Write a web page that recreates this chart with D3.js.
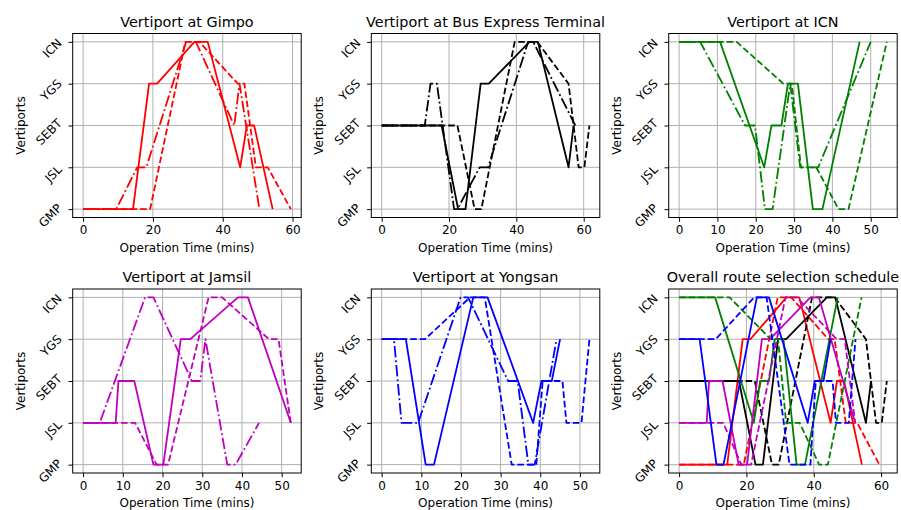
<!DOCTYPE html>
<html>
<head>
<meta charset="utf-8">
<script src="https://cdn.jsdelivr.net/npm/d3@7"></script>
<style>
  html, body { margin: 0; padding: 0; background: #fff; }
  svg { display: block; font-family: "DejaVu Sans", sans-serif; }
</style>
</head>
<body>
<svg id="chart" width="901" height="510"></svg>
<script>
// Vertiports, bottom to top of every y axis
const vertiports = ["GMP", "JSL", "SEBT", "YGS", "ICN"];

const panelTitles = [
  "Vertiport at Gimpo",
  "Vertiport at Bus Express Terminal",
  "Vertiport at ICN",
  "Vertiport at Jamsil",
  "Vertiport at Yongsan",
  "Overall route selection schedule"
];

const stationColors = ["#ff0000", "#000000", "#008000", "#bf00bf", "#0000ff"];

// x tick values per panel (minutes)
const ticks60 = [0, 20, 40, 60];
const ticks50 = [0, 10, 20, 30, 40, 50];

// Route schedules: [operation time (min), vertiport]
const gimpoSolid = [[0,"GMP"],[14.3,"GMP"],[18.9,"YGS"],[21.2,"YGS"],[31.9,"ICN"],[35.7,"ICN"],[45,"JSL"],[46.9,"SEBT"],[49,"SEBT"],[54.3,"GMP"]];
const gimpoDashed = [[0,"GMP"],[19.2,"GMP"],[29.3,"ICN"],[33.3,"ICN"],[44.3,"YGS"],[46.2,"YGS"],[49.5,"JSL"],[52.9,"JSL"],[59.5,"GMP"]];
const gimpoDashDot = [[0,"GMP"],[9.5,"GMP"],[15.5,"JSL"],[18.1,"JSL"],[29.5,"ICN"],[32.3,"ICN"],[43.3,"SEBT"],[44.8,"YGS"],[50.5,"GMP"]];

const busSolid = [[0,"SEBT"],[17.8,"SEBT"],[22.7,"GMP"],[24.9,"GMP"],[29.4,"YGS"],[31.8,"YGS"],[43.9,"ICN"],[46.4,"ICN"],[55.5,"JSL"],[57,"SEBT"]];
const busDashed = [[0,"SEBT"],[22.5,"SEBT"],[27.6,"GMP"],[29.6,"GMP"],[39.5,"ICN"],[46.2,"ICN"],[55.5,"YGS"],[58.5,"JSL"],[60.2,"JSL"],[61.7,"SEBT"]];
const busDashDot = [[0,"SEBT"],[12.8,"SEBT"],[14.5,"YGS"],[16.4,"YGS"],[21.5,"GMP"],[22.5,"GMP"],[29.1,"JSL"],[31.6,"JSL"],[43.5,"ICN"],[45,"ICN"],[57.5,"SEBT"]];

const icnSolid = [[0,"ICN"],[10.7,"ICN"],[22.2,"JSL"],[24.1,"SEBT"],[26.7,"SEBT"],[28.4,"YGS"],[31,"YGS"],[34.9,"GMP"],[37.4,"GMP"],[47.1,"ICN"]];
const icnDashed = [[0,"ICN"],[15,"ICN"],[27.2,"YGS"],[29.4,"YGS"],[31.8,"JSL"],[35.8,"JSL"],[41.6,"GMP"],[44.2,"GMP"],[54.2,"ICN"]];
const icnDashDot = [[0,"ICN"],[5.5,"ICN"],[17.2,"SEBT"],[19.8,"SEBT"],[22.4,"GMP"],[24.4,"GMP"],[29,"YGS"],[31.6,"JSL"],[36.3,"JSL"],[50,"ICN"]];

const jamsilSolid = [[0,"JSL"],[8.2,"JSL"],[8.9,"SEBT"],[12.9,"SEBT"],[17.7,"GMP"],[20.2,"GMP"],[24.6,"YGS"],[27,"YGS"],[39,"ICN"],[41.5,"ICN"],[52.3,"JSL"]];
const jamsilDashed = [[0,"JSL"],[13.1,"JSL"],[18.5,"GMP"],[21.4,"GMP"],[31.6,"ICN"],[35,"ICN"],[46.8,"YGS"],[49.2,"YGS"],[52.3,"JSL"]];
const jamsilDashDot = [[0,"JSL"],[4.2,"JSL"],[15.6,"ICN"],[17.7,"ICN"],[27.4,"SEBT"],[29.5,"SEBT"],[30.8,"YGS"],[36.3,"GMP"],[38.4,"GMP"],[44.3,"JSL"]];

const yongsanSolid = [[0,"YGS"],[6.1,"YGS"],[11.1,"GMP"],[13.2,"GMP"],[23.1,"ICN"],[26.7,"ICN"],[38.2,"JSL"],[40.3,"SEBT"],[42.9,"SEBT"],[45,"YGS"]];
const yongsanDashed = [[0,"YGS"],[10.9,"YGS"],[22.3,"ICN"],[26,"ICN"],[32.8,"GMP"],[39,"GMP"],[40.6,"SEBT"],[45.6,"SEBT"],[46.6,"JSL"],[50.4,"JSL"],[52.4,"YGS"]];
const yongsanDashDot = [[0,"YGS"],[3.1,"YGS"],[5,"JSL"],[9.2,"JSL"],[19.9,"ICN"],[21.8,"ICN"],[31.9,"SEBT"],[34.3,"SEBT"],[37,"GMP"],[38.6,"GMP"],[44.1,"YGS"]];

// Line styles (matplotlib-like dash patterns scaled to the stroke width)
const styleSolid = null;
const styleDashed = "6.6,2.9";
const styleDashDot = "11.5,2.9,1.8,2.9";

const panels = [
  { title: panelTitles[0], ticks: ticks60, series: [
    { pts: gimpoSolid, color: stationColors[0], dash: styleSolid },
    { pts: gimpoDashed, color: stationColors[0], dash: styleDashed },
    { pts: gimpoDashDot, color: stationColors[0], dash: styleDashDot }] },
  { title: panelTitles[1], ticks: ticks60, series: [
    { pts: busSolid, color: stationColors[1], dash: styleSolid },
    { pts: busDashed, color: stationColors[1], dash: styleDashed },
    { pts: busDashDot, color: stationColors[1], dash: styleDashDot }] },
  { title: panelTitles[2], ticks: ticks50, series: [
    { pts: icnSolid, color: stationColors[2], dash: styleSolid },
    { pts: icnDashed, color: stationColors[2], dash: styleDashed },
    { pts: icnDashDot, color: stationColors[2], dash: styleDashDot }] },
  { title: panelTitles[3], ticks: ticks50, series: [
    { pts: jamsilSolid, color: stationColors[3], dash: styleSolid },
    { pts: jamsilDashed, color: stationColors[3], dash: styleDashed },
    { pts: jamsilDashDot, color: stationColors[3], dash: styleDashDot }] },
  { title: panelTitles[4], ticks: ticks50, series: [
    { pts: yongsanSolid, color: stationColors[4], dash: styleSolid },
    { pts: yongsanDashed, color: stationColors[4], dash: styleDashed },
    { pts: yongsanDashDot, color: stationColors[4], dash: styleDashDot }] },
  { title: panelTitles[5], ticks: ticks60, series: [
    { pts: gimpoSolid, color: stationColors[0], dash: styleSolid },
    { pts: gimpoDashed, color: stationColors[0], dash: styleDashed },
    { pts: busSolid, color: stationColors[1], dash: styleSolid },
    { pts: busDashed, color: stationColors[1], dash: styleDashed },
    { pts: icnSolid, color: stationColors[2], dash: styleSolid },
    { pts: icnDashed, color: stationColors[2], dash: styleDashed },
    { pts: jamsilSolid, color: stationColors[3], dash: styleSolid },
    { pts: jamsilDashed, color: stationColors[3], dash: styleDashed },
    { pts: yongsanSolid, color: stationColors[4], dash: styleSolid },
    { pts: yongsanDashed, color: stationColors[4], dash: styleDashed }] }
];

// Grid of axes
const colLeft = [72.7, 371.3, 668.7];
const rowTop = [33.5, 289];
const plotW = 228.5, plotH = 184;
const labelSize = 12, titleSize = 14.4;

const svg = d3.select("#chart");
const levelIndex = d3.scaleOrdinal().domain(vertiports).range(d3.range(vertiports.length));

panels.forEach((p, i) => {
  const left = colLeft[i % 3], top = rowTop[Math.floor(i / 3)];
  const g = svg.append("g").attr("transform", `translate(${left},${top})`);

  const allT = p.series.flatMap(s => s.pts.map(d => d[0]));
  const tMin = d3.min(allT), tMax = d3.max(allT);
  const pad = (tMax - tMin) * 0.05;
  const x = d3.scaleLinear().domain([tMin - pad, tMax + pad]).range([0, plotW]);
  const y = d3.scaleLinear().domain([-0.2, 4.2]).range([plotH, 0]);

  // grid
  const grid = g.append("g").attr("stroke", "#b0b0b0").attr("stroke-width", 1);
  grid.selectAll("line.v").data(p.ticks).join("line")
    .attr("x1", d => x(d)).attr("x2", d => x(d)).attr("y1", 0).attr("y2", plotH);
  grid.selectAll("line.h").data(vertiports).join("line")
    .attr("x1", 0).attr("x2", plotW)
    .attr("y1", d => y(levelIndex(d))).attr("y2", d => y(levelIndex(d)));

  // routes
  const line = d3.line().x(d => x(d[0])).y(d => y(levelIndex(d[1])));
  p.series.forEach(s => {
    g.append("path")
      .attr("d", line(s.pts))
      .attr("fill", "none")
      .attr("stroke", s.color)
      .attr("stroke-width", 1.8)
      .attr("stroke-linejoin", "round")
      .attr("stroke-dasharray", s.dash);
  });

  // frame
  g.append("rect").attr("x", 0).attr("y", 0).attr("width", plotW).attr("height", plotH)
    .attr("fill", "none").attr("stroke", "#000").attr("stroke-width", 1);

  // x axis
  const xAxis = g.append("g").attr("transform", `translate(0,${plotH})`)
    .call(d3.axisBottom(x).tickValues(p.ticks).tickFormat(d3.format("d")).tickSize(4.2).tickPadding(4.2));
  xAxis.select(".domain").remove();
  xAxis.selectAll("line").attr("stroke", "#000").attr("stroke-width", 1);
  xAxis.selectAll("text").attr("font-size", labelSize).attr("font-family", "DejaVu Sans").attr("fill", "#000");

  // y axis with rotated vertiport names
  const yAxis = g.append("g")
    .call(d3.axisLeft(y).tickValues(d3.range(vertiports.length)).tickFormat(d => vertiports[d]).tickSize(4.2));
  yAxis.select(".domain").remove();
  yAxis.selectAll("line").attr("stroke", "#000").attr("stroke-width", 1);
  yAxis.selectAll("text").each(function() {
    const t = d3.select(this)
      .attr("font-size", labelSize).attr("font-family", "DejaVu Sans").attr("fill", "#000")
      .attr("text-anchor", "middle").attr("dy", null).attr("x", null)
      .attr("dominant-baseline", "central");
    const w = this.getComputedTextLength();
    const bw = (w + 11) / Math.SQRT2;
    t.attr("transform", `translate(${-9 - bw / 2},6) rotate(-45)`);
  });

  // title and axis labels
  g.append("text").attr("x", plotW / 2).attr("y", -7)
    .attr("text-anchor", "middle").attr("font-size", titleSize).attr("fill", "#000").text(p.title);
  g.append("text").attr("x", plotW / 2).attr("y", plotH + 34)
    .attr("text-anchor", "middle").attr("font-size", labelSize).attr("fill", "#000").text("Operation Time (mins)");
  g.append("text").attr("transform", `translate(-52,${plotH / 2}) rotate(-90)`)
    .attr("text-anchor", "middle").attr("dominant-baseline", "central")
    .attr("font-size", labelSize).attr("fill", "#000").text("Vertiports");
});
</script>
</body>
</html>
